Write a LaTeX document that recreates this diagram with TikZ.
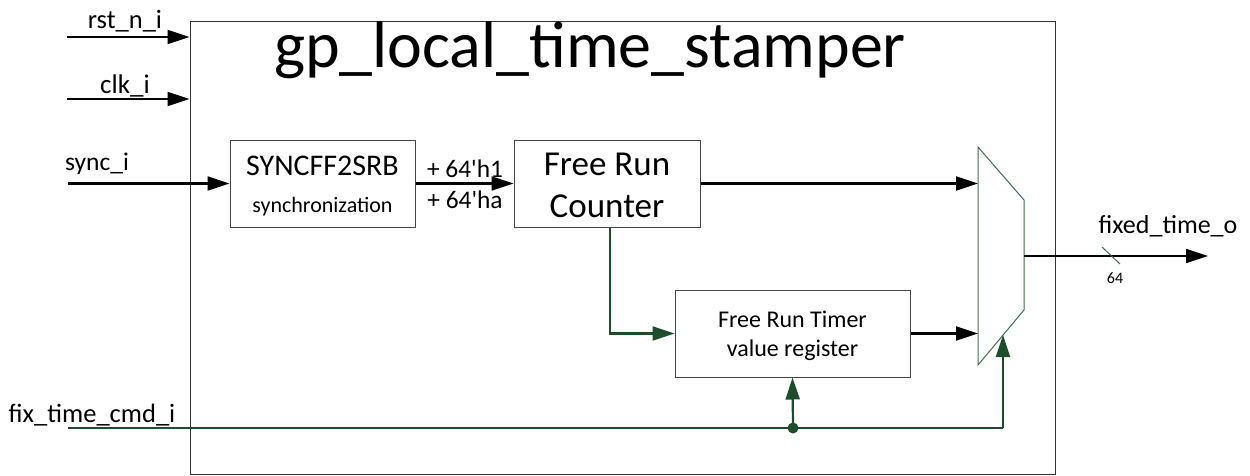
\documentclass[tikz,border=0pt]{standalone}
\usepackage{fontspec}
\setmainfont{Carlito}
\usetikzlibrary{arrows.meta,calc}
\definecolor{ctl}{RGB}{30,77,43}
\definecolor{muxline}{RGB}{60,110,75}
\definecolor{frame}{RGB}{70,70,70}
\begin{document}
\begin{tikzpicture}[x=1pt,y=-1pt,
  blk/.style={draw=frame,line width=1pt,inner sep=0pt},
  txt/.style={inner sep=0pt,anchor=base},
  sig/.style={line width=2.2pt,-{Triangle[length=22pt,width=14pt]}},
  ctlsig/.style={draw=ctl,line width=2.2pt,-{Triangle[length=22pt,width=14pt]}},
  ctlplain/.style={draw=ctl,line width=2.2pt},
  fs/.style={font=\fontsize{#1}{#1}\selectfont}]
\useasboundingbox (0,0) rectangle (1250,475);

% top-level module frame and title
\node[draw=black!80,line width=1pt,inner sep=0pt,minimum width=865pt,minimum height=453pt] (top) at (622.5,247.5) {};
\node[txt,fs=66] (title) at (590,67) {gp\_local\_time\_stamper};

% port stubs
\coordinate (rst) at (67,37);
\coordinate (clk) at (67,99);
\coordinate (sync) at (68,183.5);
\coordinate (fix) at (68,428);
\node[txt,fs=26.5] (rstlbl) at (125,28) {rst\_n\_i};
\node[txt,fs=27] (clklbl) at (125,93) {clk\_i};
\node[txt,fs=25.5] (synclbl) at (97,170) {sync\_i};
\node[txt,fs=26.5] (fixlbl) at (92,422) {fix\_time\_cmd\_i};

% internal blocks
\node[blk,minimum width=185pt,minimum height=87pt] (syncb) at (322.5,183.5) {};
\node[txt,fs=30] (synct) at (322.5,175) {SYNCFF2SRB};
\node[txt,fs=22] (syncs) at (322.5,212) {synchronization};

\node[blk,minimum width=186pt,minimum height=87pt] (frc) at (607,183.5) {};
\node[txt,fs=35] (frc1) at (607,175) {Free Run};
\node[txt,fs=35] (frc2) at (607,217) {Counter};

\node[blk,minimum width=235pt,minimum height=87pt] (timer) at (792.5,333.5) {};
\node[txt,fs=24] (tim1) at (792.5,327) {Free Run Timer};
\node[txt,fs=24] (tim2) at (792.5,356) {value register};

\node[txt,fs=25.4] (inc1) at (465,177) {+ 64\textquotesingle h1};
\node[txt,fs=25.4] (inc2) at (465,208) {+ 64\textquotesingle ha};

% output multiplexer
\coordinate (m1) at (978,147);
\coordinate (m2) at (1024,200);
\coordinate (m3) at (1024,310);
\coordinate (m4) at (978,365);
\draw[muxline,line width=1pt] (m1) -- (m2) -- (m3) -- (m4) -- cycle;
\coordinate (muxa) at (978,183.5);
\coordinate (muxb) at (978,333.5);
\coordinate (muxo) at (1024,256);
\coordinate (muxs) at (1003,335);

% output port
\coordinate (out) at (1208,256);
\node[txt,fs=26] (outlbl) at (1168,233) {fixed\_time\_o};
\coordinate (bw1) at (1102,247);
\coordinate (bw2) at (1120,264);
\node[txt,fs=16] (bwlbl) at (1115,283) {64};

% data connections
\draw[sig] (rst) -- (rst -| top.west);
\draw[sig] (clk) -- (clk -| top.west);
\draw[sig] (sync) -- (syncb.west);
\draw[sig] (syncb.east) -- (frc.west);
\draw[sig] (frc.east) -- (muxa);
\draw[sig] (timer.east) -- (muxb);
\draw[sig] (muxo) -- (out);
\draw[muxline,line width=1pt] (bw1) -- (bw2);

% control connections
\coordinate (frcdn) at ($(frc.south)+(3,0)$);
\draw[ctlsig] (frcdn) |- (timer.west);
\coordinate (tap) at (793,428);
\coordinate (ctlend) at (1003,428);
\draw[ctlplain] (fix) -- (ctlend);
\draw[ctlsig] (ctlend) -- (muxs);
\draw[ctlsig] (tap) -- (timer.south);
\fill[ctl] (tap) circle (5.5pt);
\end{tikzpicture}
\end{document}
